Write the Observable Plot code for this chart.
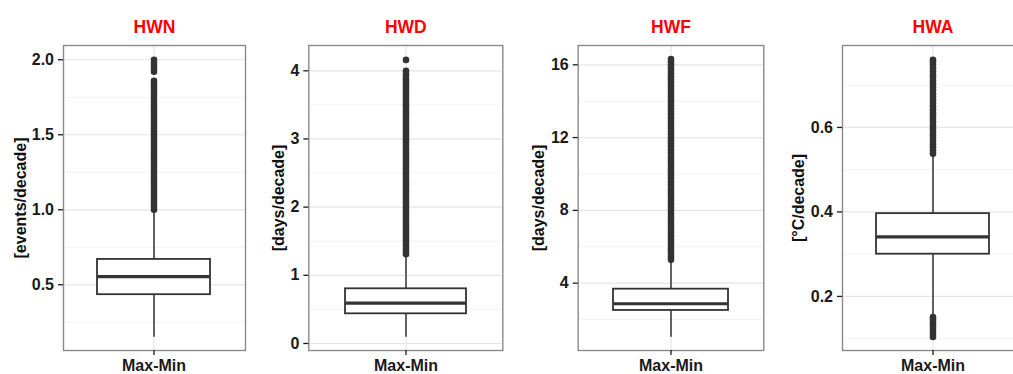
<!DOCTYPE html>
<html><head><meta charset="utf-8">
<script src="https://cdn.jsdelivr.net/npm/d3@7"></script>
<script src="https://cdn.jsdelivr.net/npm/@observablehq/plot@0.6"></script>
<style>
html,body{margin:0;padding:0;background:#fff;overflow:hidden}
#wrap{position:relative;width:1013px;height:374px;overflow:hidden}
#wrap svg{position:absolute;top:0;overflow:visible}
</style></head><body><div id="wrap"></div>
<script>
// ---- data ----
const category = "Max-Min";
const titles = ["HWN", "HWD", "HWF", "HWA"];
const units = ["[events/decade]", "[days/decade]", "[days/decade]", "[°C/decade]"];
const q1 = [0.434, 0.435, 2.50, 0.300];
const medians = [0.555, 0.591, 2.87, 0.341];
const q3 = [0.669, 0.802, 3.67, 0.396];
const whiskerLo = [0.151, 0.092, 1.03, 0.156];
const whiskerHi = [1.00, 1.31, 5.28, 0.538];
const yDomains = [[0.062, 2.095], [-0.103, 4.371], [0.30, 17.06], [0.072, 0.794]];
const majorTicks = [[0.5, 1.0, 1.5, 2.0], [0, 1, 2, 3, 4], [4, 8, 12, 16], [0.2, 0.4, 0.6]];
const minorTicks = [[0.25, 0.75, 1.25, 1.75], [0.5, 1.5, 2.5, 3.5], [2, 6, 10, 14], [0.1, 0.3, 0.5, 0.7]];
const tickDecimals = [1, 0, 0, 1];

const hwnOutliers = [1.00,1.02,1.04,1.06,1.08,1.10,1.12,1.14,1.16,1.18,1.20,1.22,1.24,1.26,1.28,1.30,1.32,1.34,1.36,1.38,1.40,1.42,1.44,1.46,1.48,1.50,1.52,1.54,1.56,1.58,1.60,1.62,1.64,1.66,1.68,1.70,1.72,1.74,1.76,1.78,1.80,1.82,1.84,1.86,1.92,1.94,1.96,1.98,2.00];
const hwdOutliers = [1.31,1.35,1.39,1.43,1.47,1.51,1.55,1.59,1.63,1.67,1.71,1.75,1.79,1.83,1.87,1.91,1.95,1.99,2.03,2.07,2.11,2.15,2.19,2.23,2.27,2.31,2.35,2.39,2.43,2.47,2.51,2.55,2.59,2.63,2.67,2.71,2.75,2.79,2.83,2.87,2.91,2.95,2.99,3.03,3.07,3.11,3.15,3.19,3.23,3.27,3.31,3.35,3.39,3.43,3.47,3.51,3.55,3.59,3.63,3.67,3.71,3.75,3.79,3.83,3.87,3.91,3.95,4.00,4.16];
const hwfOutliers = [5.28,5.44,5.60,5.76,5.92,6.08,6.24,6.40,6.56,6.72,6.88,7.04,7.20,7.36,7.52,7.68,7.84,8.00,8.16,8.32,8.48,8.64,8.80,8.96,9.12,9.28,9.44,9.60,9.76,9.92,10.08,10.24,10.40,10.56,10.72,10.88,11.04,11.20,11.36,11.52,11.68,11.84,12.00,12.16,12.32,12.48,12.64,12.80,12.96,13.12,13.28,13.44,13.60,13.76,13.92,14.08,14.24,14.40,14.56,14.72,14.88,15.04,15.20,15.36,15.52,15.68,15.84,16.00,16.16,16.32];
const hwaOutliers = [0.104,0.111,0.118,0.125,0.132,0.139,0.145,0.151,0.538,0.545,0.553,0.560,0.568,0.575,0.583,0.590,0.598,0.605,0.613,0.620,0.628,0.635,0.643,0.650,0.658,0.665,0.673,0.680,0.688,0.695,0.703,0.710,0.718,0.725,0.733,0.740,0.748,0.755,0.760];
const outliers = [hwnOutliers, hwdOutliers, hwfOutliers, hwaOutliers];

// ---- layout ----
const layout = [
  {left: 0,   width: 255, ml: 63,   mr: 10,  labelOffset: 43},
  {left: 255, width: 255, ml: 53.3, mr: 7.7, labelOffset: 30},
  {left: 510, width: 260, ml: 67.7, mr: 6.7, labelOffset: 39.5},
  {left: 770, width: 263, ml: 72,   mr: 10,  labelOffset: 44}
];
const font = "'Liberation Sans', Arial, Helvetica, sans-serif";
const dark = "#333333";
const wrap = document.getElementById("wrap");

titles.forEach((title, i) => {
  const L = layout[i];
  const box = [{cat: category, q1: q1[i], med: medians[i], q3: q3[i], lo: whiskerLo[i], hi: whiskerHi[i]}];
  const chart = Plot.plot({
    width: L.width,
    height: 374,
    marginTop: 45,
    marginBottom: 24,
    marginLeft: L.ml,
    marginRight: L.mr,
    style: {fontFamily: font, background: "transparent", overflow: "visible"},
    x: {type: "band", domain: [category], padding: 0.2308, axis: null},
    y: {domain: yDomains[i], axis: null},
    marks: [
      Plot.ruleY(minorTicks[i], {stroke: "#f2f2f2", strokeWidth: 1}),
      Plot.ruleY(majorTicks[i], {stroke: "#e6e6e6", strokeWidth: 1.2}),
      Plot.gridX({stroke: "#e6e6e6", strokeOpacity: 1, strokeWidth: 1.2}),
      Plot.ruleX(box, {x: "cat", y1: "q3", y2: "hi", stroke: dark, strokeWidth: 1.5}),
      Plot.ruleX(box, {x: "cat", y1: "lo", y2: "q1", stroke: dark, strokeWidth: 1.5}),
      Plot.barY(box, {x: "cat", y1: "q1", y2: "q3", fill: "white", stroke: dark, strokeWidth: 1.8}),
      Plot.tickY(box, {x: "cat", y: "med", stroke: dark, strokeWidth: 3.2}),
      Plot.dot(outliers[i], {x: () => category, y: d => d, r: 3.3, fill: dark, stroke: null}),
      Plot.frame({stroke: "#8a8a8a", strokeWidth: 1.4}),
      Plot.axisY({ticks: majorTicks[i], anchor: "left", tickSize: 5, tickPadding: 4.5,
        tickFormat: d => d.toFixed(tickDecimals[i]), fontSize: 16, fontWeight: "bold",
        label: null, color: "#1a1a1a", strokeWidth: 1.3}),
      Plot.axisX({anchor: "bottom", tickSize: 5, tickPadding: 4, fontSize: 16, fontWeight: "bold",
        label: null, color: "#1a1a1a", strokeWidth: 1.3}),
      Plot.text([title], {text: d => d, frameAnchor: "top", dy: -18, lineAnchor: "middle",
        textAnchor: "middle", fill: "#ff0000", fontSize: 17.5, fontWeight: "bold"}),
      Plot.text([units[i]], {text: d => d, frameAnchor: "left", dx: -L.labelOffset, rotate: -90,
        textAnchor: "middle", lineAnchor: "middle", fill: "#111", fontSize: 16, fontWeight: "bold"})
    ]
  });
  chart.style.left = L.left + "px";
  wrap.appendChild(chart);
});
</script></body></html>
